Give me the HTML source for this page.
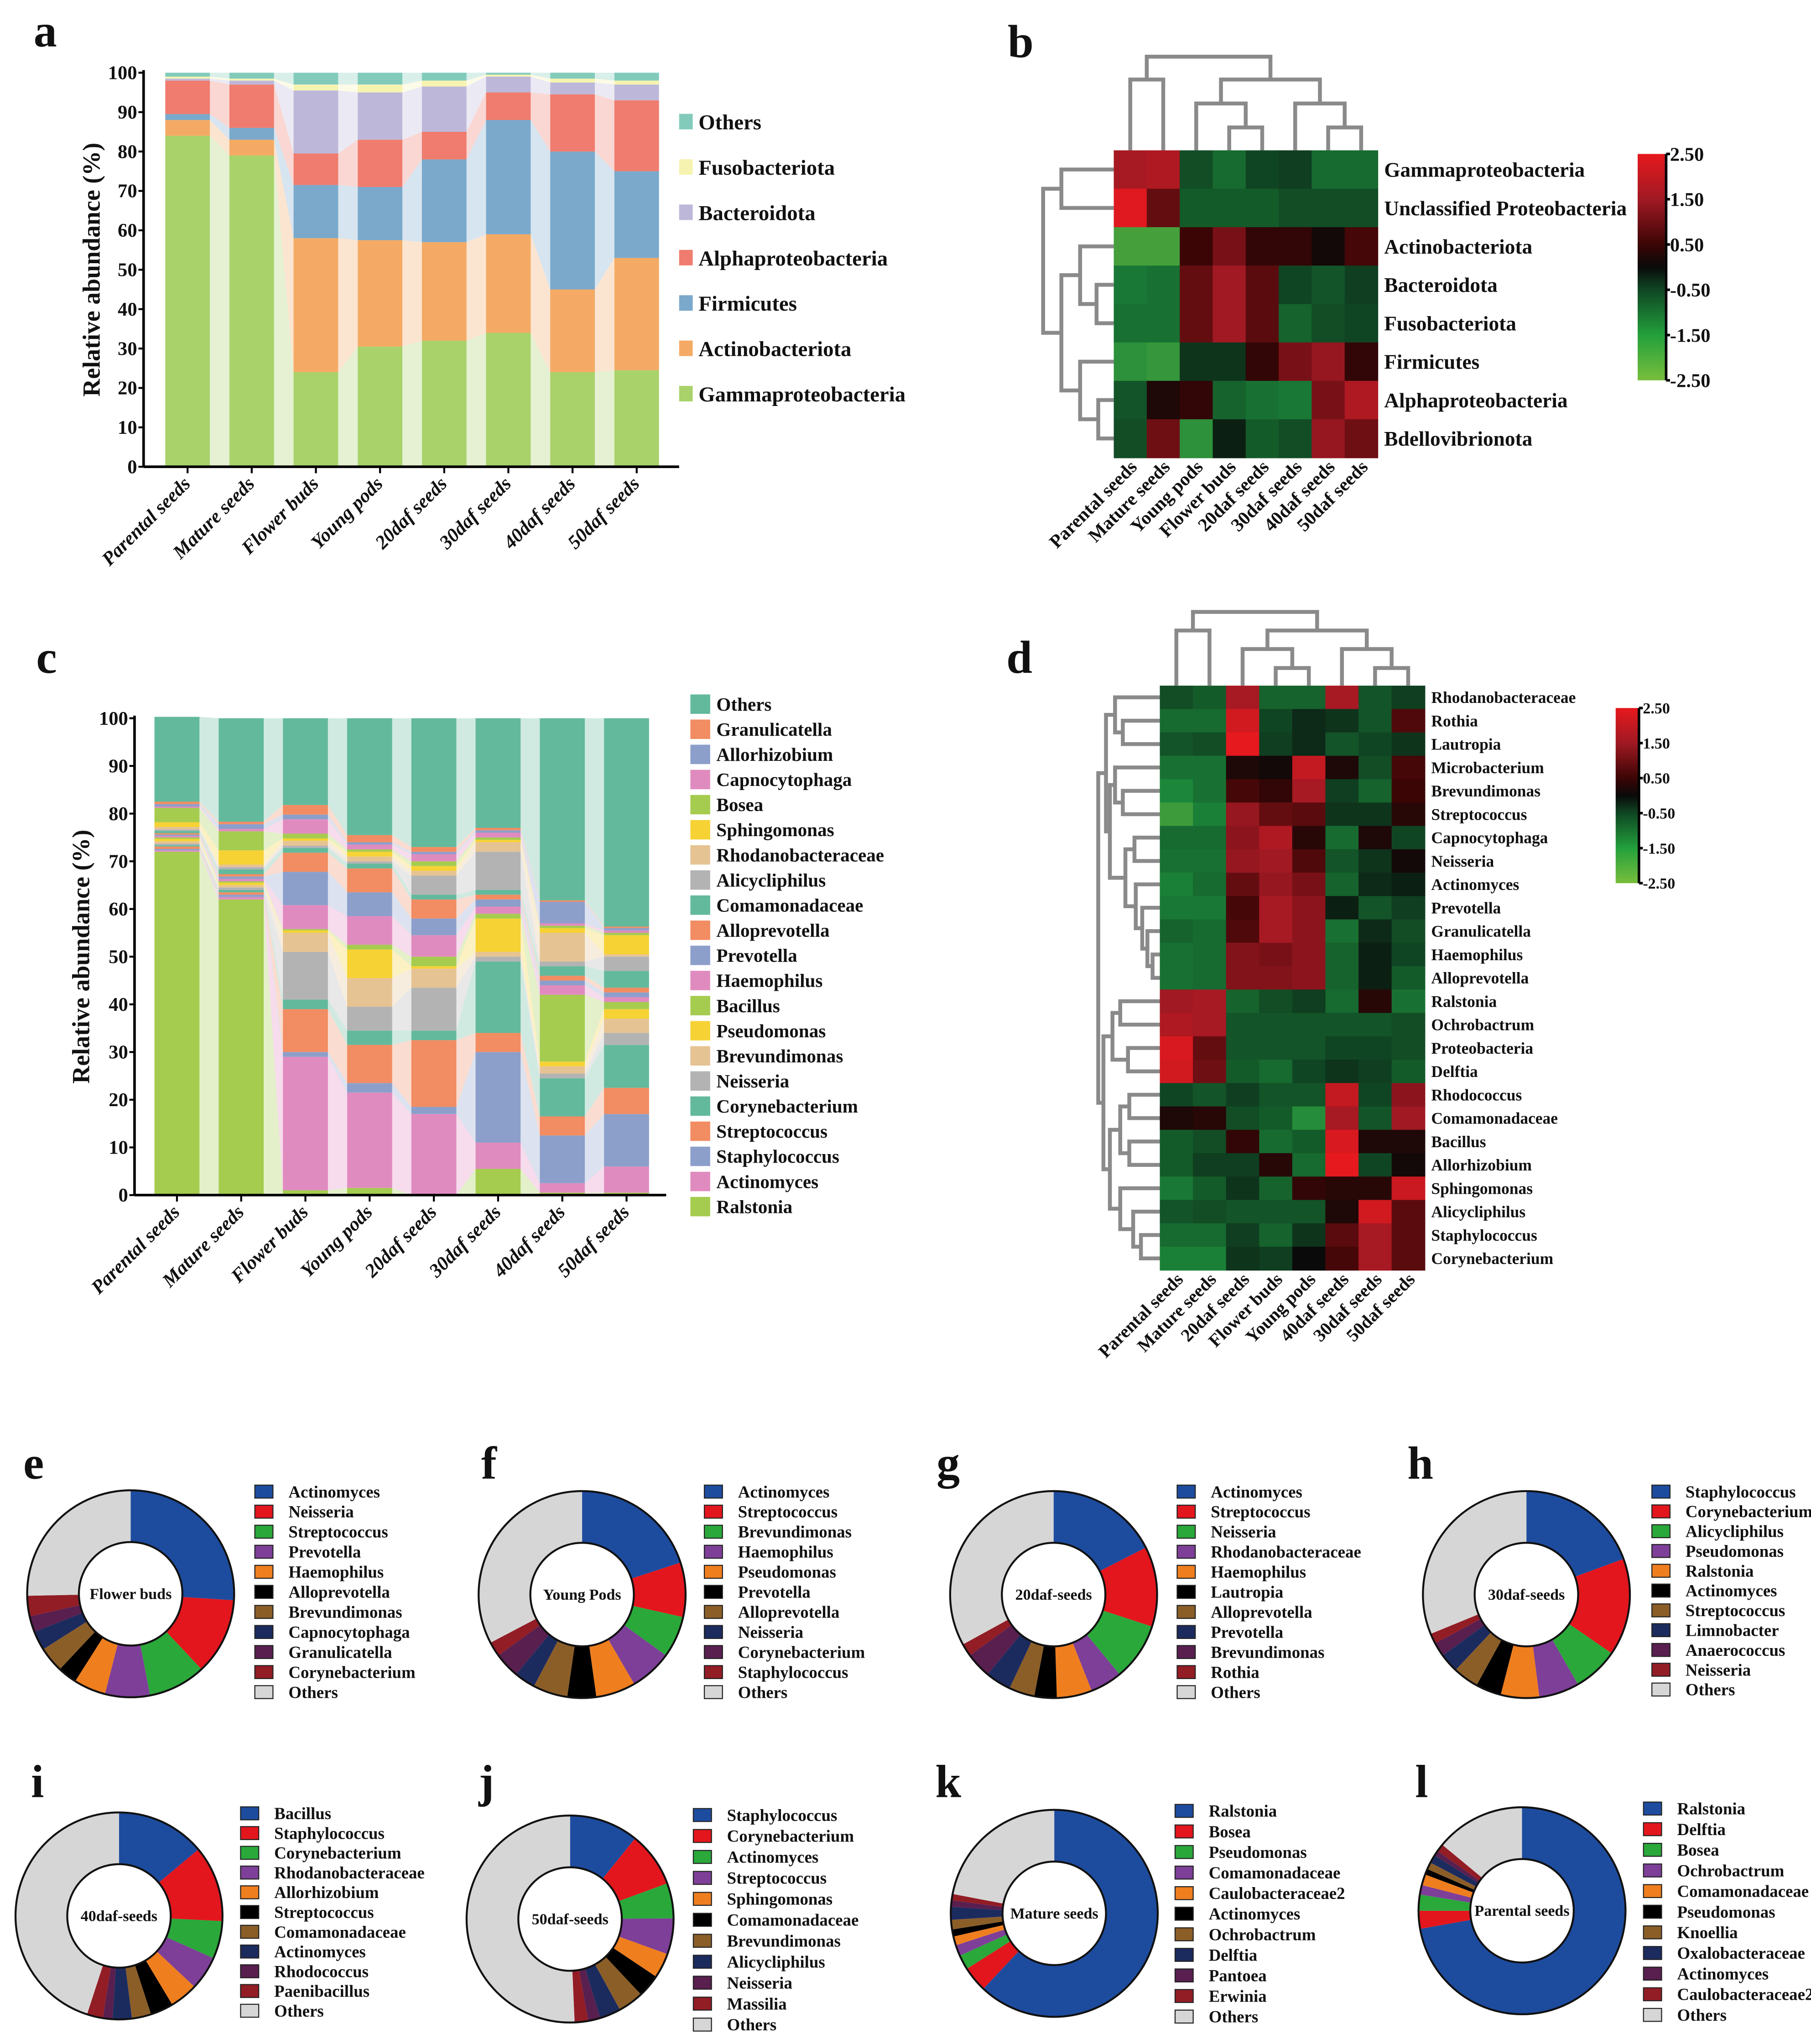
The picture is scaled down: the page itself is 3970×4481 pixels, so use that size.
<!DOCTYPE html>
<html><head><meta charset="utf-8">
<style>
html,body{margin:0;padding:0;background:#fff;}
svg{display:block;}
text{font-family:"Liberation Serif",serif;font-weight:bold;fill:#111;}
</style></head>
<body>
<svg id="fig" xmlns="http://www.w3.org/2000/svg" width="3970" height="4481" viewBox="0 0 1400 1580" preserveAspectRatio="none">
<defs>
<linearGradient id="hmgrad" x1="0" y1="1" x2="0" y2="0">
<stop offset="0" stop-color="rgb(120,190,60)"/>
<stop offset="0.2" stop-color="rgb(35,160,60)"/>
<stop offset="0.4" stop-color="rgb(15,70,35)"/>
<stop offset="0.5" stop-color="rgb(10,10,10)"/>
<stop offset="0.6" stop-color="rgb(60,5,5)"/>
<stop offset="0.8" stop-color="rgb(160,25,35)"/>
<stop offset="1" stop-color="rgb(230,25,30)"/>
</linearGradient>
</defs>
</svg>
<script>
// ===== Panel a data =====
const aCats=['Parental seeds','Mature seeds','Flower buds','Young pods','20daf seeds','30daf seeds','40daf seeds','50daf seeds'];
const aSeries=['Gammaproteobacteria','Actinobacteriota','Firmicutes','Alphaproteobacteria','Bacteroidota','Fusobacteriota','Others'];
const aGamma=[84,79,24,30.5,32,34,24,24.5];
const aActino=[4,4,34,27,25,25,21,28.5];
const aFirm=[1.5,3,13.5,13.5,21,29,35,22];
const aAlpha=[8.5,11,8,12,7,7,14.5,18];
const aBact=[0.5,1,16,12,11.5,4,3,4];
const aFuso=[0.5,0.5,1.5,2,1.5,0.5,1,1];
const aOthers=[1,1.5,3,3,2,0.5,1.5,2];
const aTicks=[0,10,20,30,40,50,60,70,80,90,100];
const aColors=['#a9d26b','#f4aa64','#7aa9cc','#ef7c6e','#bdb8d9','#f6f3b0','#82cbbb'];

// ===== Panel b data =====
const bCols=['Parental seeds','Mature seeds','Young pods','Flower buds','20daf seeds','30daf seeds','40daf seeds','50daf seeds'];
const bRows=['Gammaproteobacteria','Unclassified Proteobacteria','Actinobacteriota','Bacteroidota','Fusobacteriota','Firmicutes','Alphaproteobacteria','Bdellovibrionota'];
const bGamma=[1.6,1.7,-0.7,-1.1,-0.6,-0.5,-1.1,-1.1];
const bUncl=[2.4,0.9,-0.9,-0.9,-0.9,-0.7,-0.7,-0.7];
const bActi=[-2.0,-2.0,0.5,1.1,0.4,0.4,0.1,0.6];
const bBact=[-1.3,-1.2,0.9,1.5,0.8,-0.6,-0.8,-0.5];
const bFuso=[-1.2,-1.2,0.9,1.5,0.8,-1.0,-0.7,-0.6];
const bFirm=[-1.7,-1.8,-0.4,-0.4,0.4,1.1,1.4,0.4];
const bAlph=[-0.8,0.2,0.4,-1.0,-1.2,-1.3,1.1,1.7];
const bBdel=[-0.7,1.0,-1.7,-0.2,-0.9,-0.7,1.4,1.0];
const bTicks=['2.50','1.50','0.50','-0.50','-1.50','-2.50'];

// ===== Panel c data (bottom to top) =====
const cCats=['Parental seeds','Mature seeds','Flower buds','Young pods','20daf seeds','30daf seeds','40daf seeds','50daf seeds'];
const cGenera=['Ralstonia','Actinomyces','Staphylococcus','Streptococcus','Corynebacterium','Neisseria','Brevundimonas','Pseudomonas','Bacillus','Haemophilus','Prevotella','Alloprevotella','Comamonadaceae','Alicycliphilus','Rhodanobacteraceae','Sphingomonas','Bosea','Capnocytophaga','Allorhizobium','Granulicatella','Others'];
const cRalstonia=[72,62,1,1.5,0,5.5,0.5,0.5];
const cActinomyces=[0.3,0.5,28,20,17,5.5,2,5.5];
const cStaphylococcus=[0.3,0.5,1,2,1.5,19,10,11];
const cStreptococcus=[0.5,0.5,9,8,14,4,4,5.5];
const cCorynebacterium=[0.3,0.5,2,3,2,15,8,9];
const cNeisseria=[0.3,0.5,10,5,9,1,1,2.5];
const cBrevundimonas=[0.5,0.5,4,6,4,1,1.5,3];
const cPseudomonas=[0.5,0.5,0.5,6,0.5,7,1,2];
const cBacillus=[0.3,0.3,0.3,1,2,1,14,1.5];
const cHaemophilus=[0.3,0.5,5,6,4.5,1.5,2,1];
const cPrevotella=[0.3,0.5,7,5,3.5,1.5,1,1];
const cAlloprevotella=[0.3,0.5,4,5,4,1,1,1];
const cComamonadaceae=[0.5,1,1,1,1,1,2,3.5];
const cAlicycliphilus=[0.3,0.5,0.5,0.5,4,8,1,3];
const cRhodanobacteraceae=[0.5,0.5,1,1,1,2,6,0.5];
const cSphingomonas=[1,3,0.5,1,1,0.5,1,4];
const cBosea=[3,4,1,0.5,1,0.5,0.5,0.5];
const cCapnocytophaga=[0.3,0.5,3,1,1.5,1,0.5,0.5];
const cAllorhizobium=[0.5,1,1,0.5,0.5,0.5,4.5,0.5];
const cGranulicatella=[0.5,0.5,2,1.5,1,0.5,0.3,0.3];
const cOthers=[17.8,21.7,18.2,24.5,27,23,38.2,43.7];
const cColors=['#a5cc4f','#e08bbf','#8c9fcb','#f28c62','#63b99c','#b3b3b3','#e6c393','#f6d234'];

// ===== Panel d data =====
const dCols=['Parental seeds','Mature seeds','20daf seeds','Flower buds','Young pods','40daf seeds','30daf seeds','50daf seeds'];
const dRows=['Rhodanobacteraceae','Rothia','Lautropia','Microbacterium','Brevundimonas','Streptococcus','Capnocytophaga','Neisseria','Actinomyces','Prevotella','Granulicatella','Haemophilus','Alloprevotella','Ralstonia','Ochrobactrum','Proteobacteria','Delftia','Rhodococcus','Comamonadaceae','Bacillus','Allorhizobium','Sphingomonas','Alicycliphilus','Staphylococcus','Corynebacterium'];
const dV0=[-0.7,-0.9,1.6,-1.0,-1.0,1.6,-0.8,-0.5];
const dV1=[-1.1,-1.1,2.2,-0.6,-0.3,-0.4,-0.8,0.7];
const dV2=[-0.8,-0.7,2.5,-0.5,-0.3,-0.8,-0.6,-0.4];
const dV3=[-1.2,-1.2,0.2,0.1,2.0,0.2,-0.7,0.6];
const dV4=[-1.5,-1.2,0.6,0.4,1.6,-0.5,-1.0,0.5];
const dV5=[-1.9,-1.4,1.4,0.9,0.8,-0.4,-0.4,0.3];
const dV6=[-1.1,-1.1,1.3,1.7,0.3,-1.1,0.2,-0.6];
const dV7=[-1.2,-1.2,1.4,1.5,0.7,-0.8,-0.4,0.1];
const dV8=[-1.4,-1.1,0.9,1.4,1.1,-1.0,-0.3,-0.2];
const dV9=[-1.3,-1.3,0.6,1.6,1.3,-0.2,-0.8,-0.5];
const dV10=[-1.0,-1.1,0.7,1.6,1.3,-1.2,-0.3,-0.7];
const dV11=[-1.2,-1.1,1.2,1.1,1.3,-1.0,-0.2,-0.6];
const dV12=[-1.2,-1.1,1.2,1.2,1.3,-1.0,-0.2,-0.9];
const dV13=[1.5,1.6,-1.0,-0.7,-0.5,-1.1,0.3,-1.2];
const dV14=[1.7,1.6,-0.8,-0.8,-0.8,-0.8,-0.8,-0.7];
const dV15=[2.3,0.9,-0.8,-0.8,-0.8,-0.6,-0.6,-0.7];
const dV16=[2.2,1.0,-0.9,-1.1,-0.6,-0.4,-0.5,-0.9];
const dV17=[-0.6,-0.8,-0.5,-0.8,-0.8,2.0,-0.6,1.3];
const dV18=[0.2,0.3,-0.7,-0.9,-1.6,1.6,-0.8,1.5];
const dV19=[-0.9,-0.7,0.4,-1.1,-0.9,2.3,0.2,0.2];
const dV20=[-0.9,-0.5,-0.5,0.3,-1.1,2.5,-0.6,0.1];
const dV21=[-1.3,-0.9,-0.4,-1.0,0.4,0.3,0.3,2.1];
const dV22=[-0.8,-0.7,-0.8,-0.8,-0.8,0.2,2.2,0.8];
const dV23=[-1.1,-1.1,-0.5,-1.0,-0.4,0.8,1.6,0.8];
const dV24=[-1.4,-1.4,-0.4,-0.5,0.0,0.6,1.6,0.8];
const dTicks=['2.50','1.50','0.50','-0.50','-1.50','-2.50'];

// ===== Donut data =====
const pieColors=['#1d4c9f','#e3161d','#2aa83a','#7e3f98','#ef7e1e','#000000','#8b5e28','#1c2b5e','#581f4f','#921d25','#d6d6d6'];
const eNames=['Actinomyces','Neisseria','Streptococcus','Prevotella','Haemophilus','Alloprevotella','Brevundimonas','Capnocytophaga','Granulicatella','Corynebacterium','Others'];
const eVals=[26,12,9,7,5,3,4,3,2.5,3.2,25.3];
const fNames=['Actinomyces','Streptococcus','Brevundimonas','Haemophilus','Pseudomonas','Prevotella','Alloprevotella','Neisseria','Corynebacterium','Staphylococcus','Others'];
const fVals=[20,8.5,6.5,6.6,6.2,4.5,5.4,3.3,4,2.3,32.7];
const gNames=['Actinomyces','Streptococcus','Neisseria','Rhodanobacteraceae','Haemophilus','Lautropia','Alloprevotella','Prevotella','Brevundimonas','Rothia','Others'];
const gVals=[17.5,12.5,9,5,5.5,3.5,4,4,4,2,33];
const hNames=['Staphylococcus','Corynebacterium','Alicycliphilus','Pseudomonas','Ralstonia','Actinomyces','Streptococcus','Limnobacter','Anaerococcus','Neisseria','Others'];
const hVals=[19.4,15.2,7.1,6.3,6,4,4,3,2.2,1.6,31.2];
const iNames=['Bacillus','Staphylococcus','Corynebacterium','Rhodanobacteraceae','Allorhizobium','Streptococcus','Comamonadaceae','Actinomyces','Rhodococcus','Paenibacillus','Others'];
const iVals=[13.9,11.9,5.9,5.3,4.4,3.6,3,3,1.5,2.5,45];
const jNames=['Staphylococcus','Corynebacterium','Actinomyces','Streptococcus','Sphingomonas','Comamonadaceae','Brevundimonas','Alicycliphilus','Neisseria','Massilia','Others'];
const jVals=[10.8,8.6,5.5,5.6,3.9,3.6,4,3.3,1.9,2.1,50.7];
const kNames=['Ralstonia','Bosea','Pseudomonas','Comamonadaceae','Caulobacteraceae2','Actinomyces','Ochrobactrum','Delftia','Pantoea','Erwinia','Others'];
const kVals=[62,4,2.3,1.7,1.4,1.1,1.5,2,1,1,22];
const lNames=['Ralstonia','Delftia','Bosea','Ochrobactrum','Comamonadaceae','Pseudomonas','Knoellia','Oxalobacteraceae','Actinomyces','Caulobacteraceae2','Others'];
const lVals=[72.2,2.8,2.5,1.5,1.7,0.9,1.1,1.3,0.8,1.2,14];

const NS='http://www.w3.org/2000/svg';
const svg=document.getElementById('fig');
function mk(tag,attrs,parent){const e=document.createElementNS(NS,tag);for(const k in attrs)e.setAttribute(k,attrs[k]);(parent||svg).appendChild(e);return e;}
function txt(s,attrs,parent){const e=mk('text',attrs,parent);e.textContent=s;return e;}

const letters=[['a',26,36],['b',779,44],['c',28,520],['d',778,520],['e',18,1143],['f',372,1143],['g',724,1143],['h',1088,1143],['i',24,1389],['j',370,1389],['k',723,1389],['l',1094,1389]];
letters.forEach(L=>{
  const t=txt(L[0],{x:L[1],y:L[2],'font-size':36});
  
  
});

function stacked(prefix,cats,seriesNames,seriesVals,colors,opt){
  const g=mk('g',{});
  
  
  const y=v=>opt.y0-v*opt.ys;
  const xc=i=>opt.x0c+i*opt.slot;
  const hw=opt.bw/2;
  const tops=cats.map(()=>0);
  seriesVals.forEach((vals,s)=>{
    const col=colors[s%colors.length];
    cats.forEach((c,i)=>{
      const b=tops[i], t=tops[i]+vals[i];
      const r=mk('rect',{x:xc(i)-hw,y:y(t),width:opt.bw,height:Math.max(0,y(b)-y(t)),fill:col},g);
      
      
      if(i<cats.length-1){
        const b2=tops[i+1], t2=tops[i+1]+seriesVals[s][i+1];
        const p=mk('polygon',{fill:col,'fill-opacity':0.3},g);
        p.setAttribute('points',`${xc(i)+hw},${y(t)} ${xc(i+1)-hw},${y(t2)} ${xc(i+1)-hw},${y(b2)} ${xc(i)+hw},${y(b)}`);
        
        
      }
    });
    cats.forEach((c,i)=>{tops[i]+=vals[i];});
  });
  const ya=mk('line',{x1:opt.ax,y1:y(100)-2,x2:opt.ax,y2:opt.y0,stroke:'#000','stroke-width':2},g);
  
  
  const xa=mk('line',{x1:opt.ax,y1:opt.y0,x2:opt.axEnd,y2:opt.y0,stroke:'#000','stroke-width':2},g);
  
  
  aTicks.forEach(v=>{
    const tk=mk('line',{x1:opt.ax-4,y1:y(v),x2:opt.ax,y2:y(v),stroke:'#000','stroke-width':1.5},g);
    
    
    const tl=txt(String(v),{x:opt.ax-5,y:y(v)+5,'font-size':15,'text-anchor':'end'},g);
    
    
  });
  cats.forEach((c,i)=>{
    const tk=mk('line',{x1:xc(i),y1:opt.y0,x2:xc(i),y2:opt.y0+5,stroke:'#000','stroke-width':1.5},g);
    
    
    const tl=txt(c,{x:0,y:0,'font-size':15,'font-style':'italic','text-anchor':'end',transform:`translate(${xc(i)+3},${opt.y0+14}) rotate(-45)`},g);
    
    
  });
  const yt=txt('Relative abundance (%)',{x:0,y:0,'font-size':19,'text-anchor':'middle',transform:`translate(${opt.titleX},${(y(100)+opt.y0)/2}) rotate(-90)`},g);
  
  
  return g;
}

stacked('a',aCats,aSeries,[aGamma,aActino,aFirm,aAlpha,aBact,aFuso,aOthers],aColors,
  {y0:360.8,ys:3.046,x0c:145,slot:49.6,bw:34.5,ax:111,axEnd:525,titleX:77});
for(let k=0;k<aSeries.length;k++){
  const s=aSeries.length-1-k;
  const yy=95+k*35.05;
  const r=mk('rect',{x:525,y:yy-7,width:10.5,height:12,fill:aColors[s]});
  
  
  const t=txt(aSeries[s],{x:540,y:yy+5,'font-size':16.5});
  
  
}

const cVals=[cRalstonia,cActinomyces,cStaphylococcus,cStreptococcus,cCorynebacterium,cNeisseria,cBrevundimonas,cPseudomonas,cBacillus,cHaemophilus,cPrevotella,cAlloprevotella,cComamonadaceae,cAlicycliphilus,cRhodanobacteraceae,cSphingomonas,cBosea,cCapnocytophaga,cAllorhizobium,cGranulicatella,cOthers];
stacked('c',cCats,cGenera,cVals,cColors,
  {y0:923.8,ys:3.686,x0c:136.8,slot:49.65,bw:34.8,ax:104,axEnd:515,titleX:69});
for(let k=0;k<cGenera.length;k++){
  const s=cGenera.length-1-k;
  const yy=544.3+k*19.42;
  const r=mk('rect',{x:533.7,y:yy-7.5,width:15.3,height:15,fill:cColors[s%cColors.length]});
  
  
  const t=txt(cGenera[s],{x:553.8,y:yy+5,'font-size':14.5});
  
  
}

const stops=[[-2.5,[110,185,60]],[-1.5,[28,135,58]],[-0.5,[15,62,32]],[0,[10,10,10]],[0.5,[60,5,5]],[1.5,[160,25,35]],[2.5,[230,25,30]]];
function hcol(v){
  v=Math.max(-2.5,Math.min(2.5,v));
  for(let i=0;i<stops.length-1;i++){
    if(v<=stops[i+1][0]){const t=(v-stops[i][0])/(stops[i+1][0]-stops[i][0]);const a=stops[i][1],b=stops[i+1][1];
      return `rgb(${Math.round(a[0]+(b[0]-a[0])*t)},${Math.round(a[1]+(b[1]-a[1])*t)},${Math.round(a[2]+(b[2]-a[2])*t)})`;}
  }
  return 'rgb(230,25,30)';
}
function heatmap(prefix,cols,rows,mat,o){
  const g=mk('g',{});
  
  
  rows.forEach((rn,j)=>{
    cols.forEach((cn,i)=>{
      const r=mk('rect',{x:o.x+i*o.cw,y:o.y+j*o.rh,width:o.cw+0.4,height:o.rh+0.4,fill:hcol(mat[j][i])},g);
      
      
    });
    const t=txt(rn,{x:o.x+cols.length*o.cw+5,y:o.y+(j+0.5)*o.rh+o.fs*0.35,'font-size':o.fs},g);
    
    
  });
  cols.forEach((cn,i)=>{
    const t=txt(cn,{x:0,y:0,'font-size':o.cfs,'text-anchor':'end',transform:`translate(${o.x+(i+0.5)*o.cw+6},${o.y+rows.length*o.rh+8}) rotate(-45)`},g);
    
    
  });
  const cb=mk('rect',{x:o.cbx,y:o.cby,width:o.cbw,height:o.cbh,fill:'url(#hmgrad)'},g);
  
  
  const cl=mk('line',{x1:o.cbx+o.cbw+1,y1:o.cby,x2:o.cbx+o.cbw+1,y2:o.cby+o.cbh,stroke:'#000','stroke-width':2},g);
  
  
  o.ticks.forEach((tk,k)=>{
    const yy=o.cby+k*o.cbh/(o.ticks.length-1);
    const tm=mk('line',{x1:o.cbx+o.cbw+1,y1:yy,x2:o.cbx+o.cbw+4,y2:yy,stroke:'#000','stroke-width':2},g);
    
    
    const t=txt(tk,{x:o.cbx+o.cbw+4,y:yy+o.tfs*0.35,'font-size':o.tfs},g);
    
    
  });
  return g;
}
function dendro(prefix,node,leafPos,base,vertical){
  const g=mk('g',{fill:'none',stroke:'#8a8a8a','stroke-width':3});
  
  
  function rec(n){
    if(typeof n==='number') return {p:leafPos(n),h:base};
    const a=rec(n.c[0]),b=rec(n.c[1]);
    const path=vertical?`M${a.p},${a.h} V${n.h} H${b.p} V${b.h}`:`M${a.h},${a.p} H${n.h} V${b.p} H${b.h}`;
    const p=mk('path',{d:path},g);
    
    
    return {p:(a.p+b.p)/2,h:n.h};
  }
  return rec(node);
}

const bMat=[bGamma,bUncl,bActi,bBact,bFuso,bFirm,bAlph,bBdel];
const bo={x:861,y:116.2,cw:25.5,rh:29.7,fs:16,cfs:14.5,cbx:1266,cby:119,cbw:21,cbh:175,ticks:bTicks,tfs:15};
heatmap('b',bCols,bRows,bMat,bo);
dendro('b-col',{c:[{c:[0,1],h:61.5},{c:[{c:[2,{c:[3,4],h:98.5}],h:80},{c:[5,{c:[6,7],h:98.5}],h:80}],h:61.5}],h:43.8},
  i=>bo.x+(i+0.5)*bo.cw,bo.y,true);
dendro('b-row',{c:[{c:[0,1],h:820.5},{c:[{c:[2,{c:[3,4],h:847.7}],h:835},{c:[5,{c:[6,7],h:849}],h:835}],h:820.5}],h:806.4},
  j=>bo.y+(j+0.5)*bo.rh,bo.x,false);

const dMat=[dV0,dV1,dV2,dV3,dV4,dV5,dV6,dV7,dV8,dV9,dV10,dV11,dV12,dV13,dV14,dV15,dV16,dV17,dV18,dV19,dV20,dV21,dV22,dV23,dV24];
const dob={x:896.6,y:530,cw:25.6,rh:18.07,fs:12.5,cfs:14,cbx:1249,cby:547.3,cbw:17,cbh:135.4,ticks:dTicks,tfs:12};
heatmap('d',dCols,dRows,dMat,dob);
dendro('d-col',{c:[{c:[0,1],h:487.4},{c:[{c:[2,{c:[3,4],h:516.4}],h:501.7},{c:[5,{c:[6,7],h:516.4}],h:501.7}],h:487.4}],h:473},
  i=>dob.x+(i+0.5)*dob.cw,dob.y,true);
const dA={c:[{c:[0,{c:[1,2],h:868}],h:862},{c:[{c:[3,{c:[4,5],h:868}],h:862},{c:[{c:[6,7],h:877},{c:[8,{c:[9,{c:[10,{c:[11,12],h:891}],h:887}],h:883}],h:878}],h:870}],h:858}],h:855};
const dB={c:[{c:[13,14],h:866},{c:[15,16],h:872}],h:860};
const dC={c:[{c:[{c:[17,18],h:873},{c:[19,20],h:873}],h:866},{c:[21,{c:[22,{c:[23,24],h:882}],h:876}],h:866}],h:858};
dendro('d-row',{c:[dA,{c:[dB,dC],h:853}],h:849},j=>dob.y+(j+0.5)*dob.rh,dob.x,false);

function donut(prefix,label,names,vals,cx,cy,lx,ly,lstep){
  const g=mk('g',{});
  
  
  const R=80,r=40;
  const tot=vals.reduce((a,b)=>a+b,0);
  let acc=0;
  vals.forEach((v,k)=>{
    const a0=acc/tot*2*Math.PI, a1=(acc+v)/tot*2*Math.PI; acc+=v;
    const pt=(rad,a)=>[cx+rad*Math.sin(a),cy-rad*Math.cos(a)];
    const big=(a1-a0)>Math.PI?1:0;
    const p0=pt(R,a0),p1=pt(R,a1),q1=pt(r,a1),q0=pt(r,a0);
    const d=`M${p0[0]},${p0[1]} A${R},${R} 0 ${big} 1 ${p1[0]},${p1[1]} L${q1[0]},${q1[1]} A${r},${r} 0 ${big} 0 ${q0[0]},${q0[1]} Z`;
    const p=mk('path',{d:d,fill:pieColors[k]},g);
    
    
  });
  const o1=mk('circle',{cx:cx,cy:cy,r:R,fill:'none',stroke:'#111','stroke-width':1.5},g);
  
  
  const o2=mk('circle',{cx:cx,cy:cy,r:r,fill:'#fff',stroke:'#111','stroke-width':1.5},g);
  
  
  const t=txt(label,{x:cx,y:cy+4,'font-size':12,'text-anchor':'middle'},g);
  
  
  names.forEach((n,k)=>{
    const yy=ly+k*lstep;
    const s=mk('rect',{x:lx,y:yy-5,width:14,height:10,fill:pieColors[k],stroke:'#222','stroke-width':0.8},g);
    
    
    const tl=txt(n,{x:lx+26,y:yy+4.5,'font-size':13},g);
    
    
  });
}
donut('e','Flower buds',eNames,eVals,101,1232,197,1153,15.5);
donut('f','Young Pods',fNames,fVals,450,1232.6,544.5,1153,15.5);
donut('g','20daf-seeds',gNames,gVals,814.5,1232.6,910,1153,15.5);
donut('h','30daf-seeds',hNames,hVals,1180,1232.6,1277,1153,15.3);
donut('i','40daf-seeds',iNames,iVals,92,1481,186,1401.7,15.26);
donut('j','50daf-seeds',jNames,jVals,440.7,1483.4,536,1403,16.2);
donut('k','Mature seeds',kNames,kVals,815,1479,908.4,1399.8,15.9);
donut('l','Parental seeds',lNames,lVals,1176.6,1477,1270.5,1398,15.95);
</script>
</body></html>
